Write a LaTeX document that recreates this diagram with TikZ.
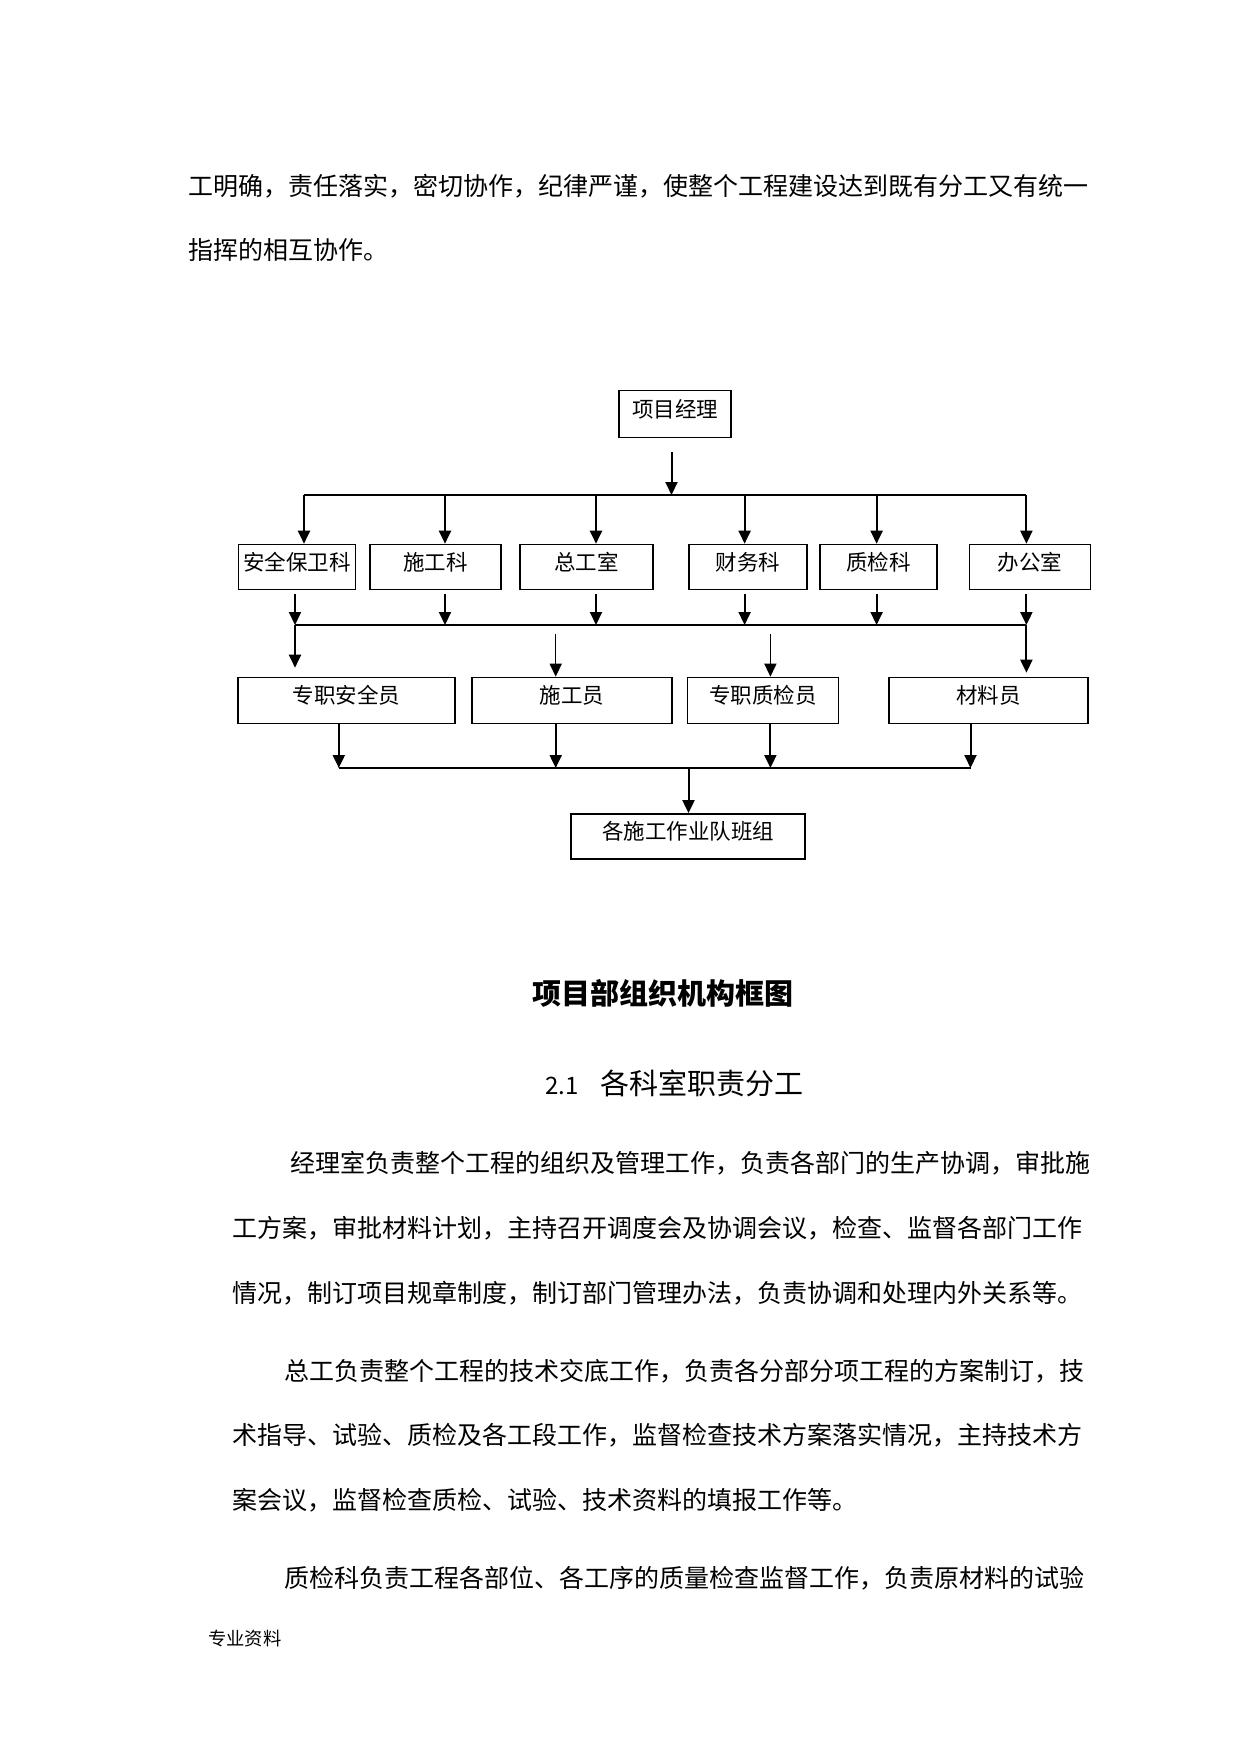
\documentclass[tikz,border=0pt]{standalone}
\usepackage{fontspec}
\setmainfont{Noto Sans CJK SC}
\usetikzlibrary{arrows.meta}
\tikzstyle{arrow} = [line width=2pt,-{Triangle[length=13pt,width=12pt]}]
\tikzstyle{bus} = [line width=2pt]
\tikzstyle{unit} = [
    rectangle, draw=black, line width=1.6pt, minimum height=45pt,
    inner sep=0pt, text centered, text height=15pt, text depth=9pt,
    font=\fontsize{21.5}{24}\selectfont
]
\tikzstyle{txt} = [anchor=base west, inner sep=0pt, font=\fontsize{25}{30}\selectfont]

\begin{document}
\begin{tikzpicture}[x=1pt, y=-1pt]
\fill[white] (0,0) rectangle (1240,1753);
\useasboundingbox (0,0) rectangle (1240,1753);

% texto acima
\node (T_1) [txt] at (188,195.5) {工明确，责任落实，密切协作，纪律严谨，使整个工程建设达到既有分工又有统一};
\node (T_2) [txt] at (188,259.5) {指挥的相互协作。};

% caixas
\node (PM) [unit, minimum width=112pt, minimum height=47pt] at (675,414) {项目经理};
\node (D_1) [unit, minimum width=117pt] at (297,567) {安全保卫科};
\node (D_2) [unit, minimum width=131pt] at (435.5,567) {施工科};
\node (D_3) [unit, minimum width=133pt] at (586.5,567) {总工室};
\node (D_4) [unit, minimum width=118pt] at (748,567) {财务科};
\node (D_5) [unit, minimum width=117pt] at (878.3,567) {质检科};
\node (D_6) [unit, minimum width=121pt] at (1029.8,567) {办公室};
\node (S_1) [unit, minimum width=217pt, minimum height=46pt] at (346.6,700.5) {专职安全员};
\node (S_2) [unit, minimum width=200pt, minimum height=46pt] at (572,700.5) {施工员};
\node (S_3) [unit, minimum width=151pt, minimum height=46pt] at (763,700.5) {专职质检员};
\node (S_4) [unit, minimum width=199pt, minimum height=46pt] at (988.4,700.5) {材料员};
\node (Team) [unit, minimum width=234pt] at (688,836.4) {各施工作业队班组};

% barramentos
\coordinate (B1_L) at (304,495);
\coordinate (B1_R) at (1026.4,495);
\coordinate (B2_L) at (295,625);
\coordinate (B2_R) at (1026.4,625);
\coordinate (B3_L) at (338.8,768);
\coordinate (B3_R) at (970.5,768);
\coordinate (hub_1) at (671.5,495);
\coordinate (hub_3) at (688.5,768);
\draw [bus] (B1_L) -- (B1_R);
\draw [bus] (B2_L) -- (B2_R);
\draw [bus] (B3_L) -- (B3_R);

% setas
\draw [arrow, shorten <=14pt] (PM.south -| hub_1) -- (hub_1);
\foreach \x/\n in {304/1, 445/2, 596/3, 744.6/4, 876.6/5, 1026.4/6}
    \draw [arrow] (\x,0 |- B1_L) -- (\x,0 |- D_\n.north);
\foreach \x/\n in {295/1, 445/2, 596/3, 744.6/4, 876.6/5, 1026.4/6}
    \draw [arrow, shorten <=4pt] (\x,0 |- D_\n.south) -- (\x,0 |- B2_L);
\draw [arrow, shorten >=9pt] (B2_L) -- (B2_L |- S_1.north);
\draw [arrow, line width=1.5pt, shorten <=9pt] (555.7,0 |- B2_L) -- (555.7,0 |- S_2.north);
\draw [arrow, line width=1.5pt, shorten <=9pt] (770.4,0 |- B2_L) -- (770.4,0 |- S_3.north);
\draw [arrow, shorten >=4pt] (B2_R) -- (B2_R |- S_4.north);
\foreach \x/\n in {338.8/1, 555.7/2, 770.4/3, 970.5/4}
    \draw [arrow] (\x,0 |- S_\n.south) -- (\x,0 |- B3_L);
\draw [arrow] (hub_3) -- (hub_3 |- Team.north);

% legenda e texto abaixo
\node (Cap) [anchor=base, inner sep=0pt, font=\fontsize{29}{34}\selectfont\bfseries] at (662.5,1004) {项目部组织机构框图};
\node (Sec_n) [txt, font=\fontsize{24}{28}\selectfont] at (545,1094) {2.1};
\node (Sec_t) [txt, font=\fontsize{29}{34}\selectfont] at (600,1094) {各科室职责分工};
\node (P1_1) [txt] at (290,1172.5) {经理室负责整个工程的组织及管理工作，负责各部门的生产协调，审批施};
\node (P1_2) [txt] at (232.6,1237.5) {工方案，审批材料计划，主持召开调度会及协调会议，检查、监督各部门工作};
\node (P1_3) [txt] at (232.6,1302.5) {情况，制订项目规章制度，制订部门管理办法，负责协调和处理内外关系等。};
\node (P2_1) [txt] at (284,1380.5) {总工负责整个工程的技术交底工作，负责各分部分项工程的方案制订，技};
\node (P2_2) [txt] at (232.6,1444.5) {术指导、试验、质检及各工段工作，监督检查技术方案落实情况，主持技术方};
\node (P2_3) [txt] at (232.6,1509.5) {案会议，监督检查质检、试验、技术资料的填报工作等。};
\node (P3_1) [txt] at (284,1587.5) {质检科负责工程各部位、各工序的质量检查监督工作，负责原材料的试验};
\node (Foot) [txt, font=\fontsize{18.3}{22}\selectfont] at (208,1645) {专业资料};

\end{tikzpicture}
\end{document}
